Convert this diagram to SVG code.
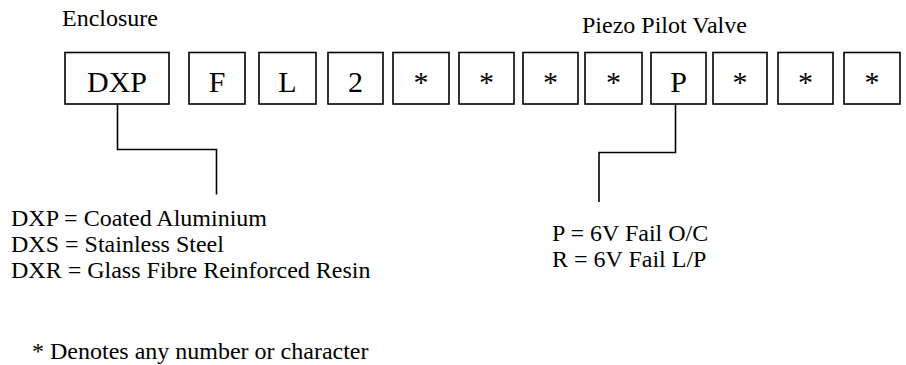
<svg xmlns="http://www.w3.org/2000/svg" width="906" height="365" viewBox="0 0 906 365">
  <style>
    .box rect { fill: #fff; stroke: #000; stroke-width: 1.6; }
    .box text { font-family: "Liberation Serif", "Times New Roman", serif; font-size: 30px; text-anchor: middle; fill: #000; }
    .label { font-family: "Liberation Serif", "Times New Roman", serif; font-size: 24px; fill: #000; }
    .wire { fill: none; stroke: #000; stroke-width: 1.6; }
  </style>
  <rect width="906" height="365" fill="#fff"/>

  <!-- section headings -->
  <text class="label" x="62" y="26">Enclosure</text>
  <text class="label" x="582" y="33">Piezo Pilot Valve</text>

  <!-- code character boxes -->
  <g id="box-dxp" class="box"><rect x="65" y="52.5" width="104" height="51.5"/><text x="117" y="92">DXP</text></g>
  <g id="box-f" class="box"><rect x="189" y="52.5" width="56" height="51.5"/><text x="217" y="92">F</text></g>
  <g id="box-l" class="box"><rect x="259" y="52.5" width="57" height="51.5"/><text x="287.5" y="92">L</text></g>
  <g id="box-2" class="box"><rect x="328" y="52.5" width="55" height="51.5"/><text x="355.5" y="92">2</text></g>
  <g id="box-s1" class="box"><rect x="393" y="52.5" width="56" height="51.5"/><text x="421" y="92">*</text></g>
  <g id="box-s2" class="box"><rect x="459" y="52.5" width="55" height="51.5"/><text x="486.5" y="92">*</text></g>
  <g id="box-s3" class="box"><rect x="523" y="52.5" width="55" height="51.5"/><text x="550.5" y="92">*</text></g>
  <g id="box-s4" class="box"><rect x="585" y="52.5" width="57" height="51.5"/><text x="613.5" y="92">*</text></g>
  <g id="box-p" class="box"><rect x="651" y="52.5" width="55" height="51.5"/><text x="678.5" y="92">P</text></g>
  <g id="box-s5" class="box"><rect x="713" y="52.5" width="54" height="51.5"/><text x="740" y="92">*</text></g>
  <g id="box-s6" class="box"><rect x="778" y="52.5" width="55" height="51.5"/><text x="805.5" y="92">*</text></g>
  <g id="box-s7" class="box"><rect x="844" y="52.5" width="56" height="51.5"/><text x="872" y="92">*</text></g>

  <!-- leader lines -->
  <g id="connectors">
    <polyline class="wire" points="117.5,104 117.5,149.5 216.5,149.5 216.5,194.5"/>
    <polyline class="wire" points="675.5,104 675.5,152.5 599,152.5 599,202"/>
  </g>

  <!-- enclosure options -->
  <g id="enclosure-options">
    <text class="label" x="11" y="226">DXP = Coated Aluminium</text>
    <text class="label" x="11" y="252">DXS = Stainless Steel</text>
    <text class="label" x="11" y="278">DXR = Glass Fibre Reinforced Resin</text>
  </g>

  <!-- pilot valve options -->
  <g id="valve-options">
    <text class="label" x="552" y="241">P = 6V Fail O/C</text>
    <text class="label" x="552" y="267">R = 6V Fail L/P</text>
  </g>

  <text class="label" x="32" y="359">* Denotes any number or character</text>
</svg>
